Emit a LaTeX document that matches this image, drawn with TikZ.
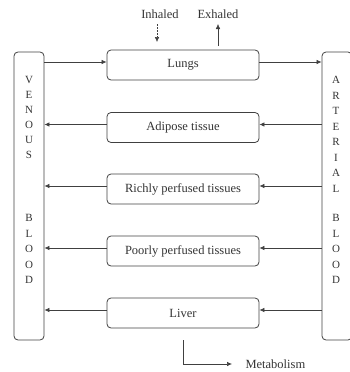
\documentclass[tikz,border=0pt]{standalone}
\usepackage{fontspec}
\setmainfont{Liberation Serif}
\usetikzlibrary{arrows.meta}
\definecolor{linecol}{gray}{0.25}
\definecolor{txtcol}{gray}{0.2}
\begin{document}
\begin{tikzpicture}[x=1pt,y=-1pt,
  font=\fontsize{12.5}{14}\selectfont, text=txtcol,
  organ/.style={draw=linecol, line width=0.8pt, rounded corners=4pt,
    minimum width=152pt, minimum height=30pt, inner sep=0pt},
  pool/.style={draw=linecol, line width=0.8pt, rounded corners=4pt,
    minimum width=30pt, minimum height=288pt, inner sep=0pt},
  flow/.style={draw=linecol, line width=0.7pt, -{Latex[length=5pt,width=4.5pt]}},
  letter/.style={inner sep=0pt, font=\fontsize{11}{12}\selectfont}]
\useasboundingbox (0,0) rectangle (350,372);
% blood pools
\node[pool] (ven) at (29,196) {};
\node[pool] (art) at (337,196) {};
% letters
\foreach \c [count=\i from 0] in {V,E,N,O,U,S}
  \node[letter] (vl\i) at (29,{80+15*\i}) {\c};
\foreach \c [count=\i from 0] in {A,R,T,E,R,I,A,L}
  \node[letter] (al\i) at (336,{80+15.5*\i}) {\c};
\foreach \c [count=\i from 0] in {B,L,O,O,D}{
  \node[letter] (vb\i) at (29,{218+15.5*\i}) {\c};
  \node[letter] (ab\i) at (336,{218+15.5*\i}) {\c};
}
% organs
\node[organ] (lungs) at (183,65) {Lungs};
\node[organ] (adip) at (183,127.5) {Adipose tissue};
\node[organ] (rich) at (183,189) {Richly perfused tissues};
\node[organ] (poor) at (183,251) {Poorly perfused tissues};
\node[organ] (liver) at (183,313) {Liver};
% flows
\draw[flow] ([yshift=3pt]lungs.west -| ven.east) -- ([yshift=3pt]lungs.west);
\draw[flow] ([yshift=3pt]lungs.east) -- ([yshift=3pt]lungs.east -| art.west);
\foreach \n in {adip,rich,poor,liver}{
  \draw[flow] ([yshift=3pt]\n.east -| art.west) -- ([yshift=3pt]\n.east);
  \draw[flow] ([yshift=3pt]\n.west) -- ([yshift=3pt]\n.west -| ven.east);
}
% breathing
\node (inh) at (160,14) {Inhaled};
\node (exh) at (218,14) {Exhaled};
\coordinate (inhstart) at (157,24);
\coordinate (inhend) at (157,42);
\coordinate (exhstart) at (218,46);
\coordinate (exhend) at (218,24);
\draw[flow, line width=0.5pt, dash pattern=on 2pt off 1pt] (inhstart) -- (inhend);
\draw[flow, line width=0.5pt] (exhstart) -- (exhend);
% metabolism
\node[anchor=west] (metab) at (242,364) {Metabolism};
\coordinate (mstart) at (183,340);
\draw[flow] (mstart) |- ([xshift=-10pt]metab.west);
\end{tikzpicture}
\end{document}
